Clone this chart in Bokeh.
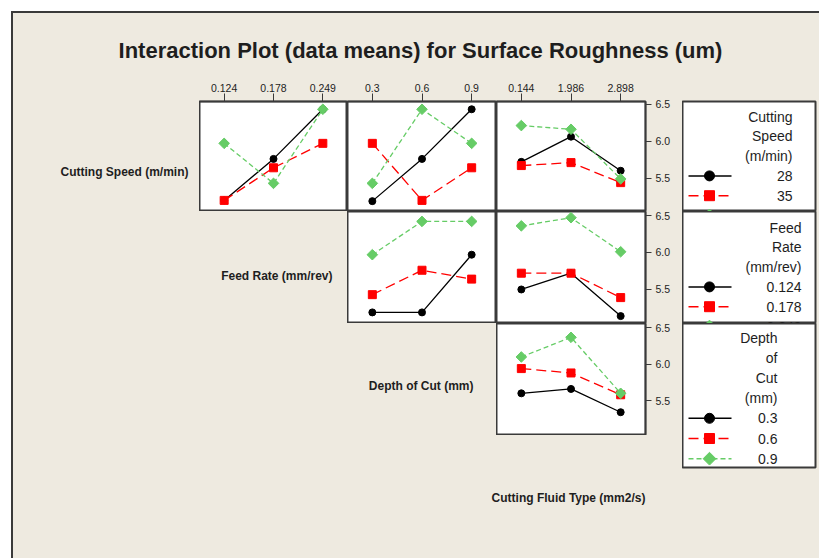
import numpy as np
from bokeh.plotting import figure
from bokeh.models import Range1d, FactorRange, FixedTicker, PrintfTickFormatter, Div
from bokeh.layouts import row, column
from bokeh.embed import file_html
from bokeh.resources import INLINE
from bokeh.core.properties import value

# ---------------- data ----------------
TITLE = "Interaction Plot (data means) for Surface Roughness (um)"
label_speed = "Cutting Speed (m/min)"
label_feed = "Feed Rate (mm/rev)"
label_depth = "Depth of Cut (mm)"
label_fluid = "Cutting Fluid Type (mm2/s)"

speed_levels = ["28", "35", "42"]
feed_levels = ["0.124", "0.178", "0.249"]
depth_levels = ["0.3", "0.6", "0.9"]
fluid_levels = ["0.144", "1.986", "2.898"]

legend_speed_title = ["Cutting", "Speed", "(m/min)"]
legend_feed_title = ["Feed", "Rate", "(mm/rev)"]
legend_depth_title = ["Depth", "of", "Cut", "(mm)"]

y_ticks = [5.5, 6.0, 6.5]

# means[trace level][x level]
speed_by_feed = [[5.20, 5.76, 6.43], [5.20, 5.64, 5.97], [5.97, 5.43, 6.43]]
speed_by_depth = [[5.19, 5.76, 6.43], [5.97, 5.20, 5.64], [5.43, 6.43, 5.97]]
speed_by_fluid = [[5.72, 6.06, 5.60], [5.67, 5.71, 5.44], [6.21, 6.16, 5.49]]
feed_by_depth = [[5.19, 5.19, 5.97], [5.43, 5.76, 5.64], [5.97, 6.42, 6.42]]
feed_by_fluid = [[5.50, 5.72, 5.14], [5.72, 5.72, 5.39], [6.36, 6.47, 6.01]]
depth_by_fluid = [[5.60, 5.66, 5.34], [5.94, 5.88, 5.58], [6.10, 6.37, 5.60]]

# ---------------- style ----------------
BG = "#EEEAE0"
EDGE = "#3a3a3a"
TXT = "#1e1e1e"
FONT = "Liberation Sans"
colors = ["#000000", "#FF0000", "#66CC66"]
dashes = ["solid", "10 5", "5 3"]
markers = ["circle", "square", "square"]
angles = [0.0, 0.0, np.pi / 4]
sizes = [7, 8, 7.5]
leg_sizes = [10, 10, 9]
BGSTYLE = {"background-color": BG}


def base_fig(width, height, **kw):
    p = figure(width=width, height=height, toolbar_location=None, output_backend="svg",
               title=None, **kw)
    p.border_fill_color = BG
    p.xgrid.visible = False
    p.ygrid.visible = False
    return p


def text_fig(width, height, items):
    p = base_fig(width, height, x_range=Range1d(0, width), y_range=Range1d(height, 0),
                 x_axis_location=None, y_axis_location=None, min_border=0)
    p.background_fill_color = BG
    p.outline_line_color = None
    for (x, y, s, align, size) in items:
        p.text(x=[x], y=[y], text=[s], text_align=align, text_baseline="middle",
               text_font=value(FONT), text_font_size=size, text_font_style="bold",
               text_color=TXT)
    return p


def panel(xlevels, ylim, means, width, height, top_axis=False, right_axis=False,
          min_top=0, min_right=0):
    p = base_fig(width, height, x_range=FactorRange(factors=xlevels), y_range=Range1d(*ylim),
                 x_axis_location="above" if top_axis else None,
                 y_axis_location="right" if right_axis else None,
                 min_border=0, min_border_top=min_top, min_border_right=min_right)
    p.background_fill_color = "white"
    p.outline_line_color = EDGE
    p.outline_line_width = 2
    for k in range(3):
        p.line(x=xlevels, y=means[k], line_color=colors[k], line_width=1.3,
               line_dash=dashes[k])
        p.scatter(x=xlevels, y=means[k], marker=markers[k], size=sizes[k],
                  angle=angles[k], fill_color=colors[k], line_color=colors[k])
    axes = []
    if top_axis:
        axes += list(p.xaxis)
    if right_axis:
        ax = p.yaxis[0]
        ax.ticker = FixedTicker(ticks=y_ticks)
        ax.formatter = PrintfTickFormatter(format="%.1f")
        ax.minor_tick_line_color = None
        ax.major_label_standoff = 4
        ax.major_tick_out = 6
        axes.append(ax)
    for ax in axes:
        ax.major_tick_in = 0
        ax.major_tick_line_color = EDGE
        ax.axis_line_color = EDGE
        ax.axis_line_width = 1.5
        ax.major_label_text_font = FONT
        ax.major_label_text_font_size = "10.5px"
        ax.major_label_text_color = TXT
    if top_axis:
        p.xaxis.major_tick_out = 8
        p.xaxis.major_label_standoff = 2
    return p


def legend_fig(width, height, box_h, min_top, min_bottom, min_right, title_lines, levels,
               text_right, off, sp):
    n = len(title_lines) + len(levels)
    fw = width - min_right
    p = base_fig(width, height, x_range=Range1d(0, fw),
                 y_range=Range1d(start=(box_h - off) / sp, end=-off / sp),
                 x_axis_location=None, y_axis_location=None, min_border=0,
                 min_border_top=min_top, min_border_bottom=min_bottom,
                 min_border_right=min_right)
    p.background_fill_color = "white"
    p.outline_line_color = EDGE
    p.outline_line_width = 2
    lines = title_lines + levels
    p.text(x=[text_right] * n, y=list(range(n)), text=lines, text_align="right",
           text_baseline="middle", text_font=value(FONT), text_font_size="14px",
           text_color=TXT)
    for k in range(len(levels)):
        yk = len(title_lines) + k
        p.line(x=[6, 49], y=[yk, yk], line_color=colors[k], line_width=1.5,
               line_dash=dashes[k])
        p.scatter(x=[27], y=[yk], marker=markers[k], size=leg_sizes[k], angle=angles[k],
                  fill_color=colors[k], line_color=colors[k])
    return p


ylim1 = (5.05, 6.535)
ylim2 = (5.04, 6.554)
ylim3 = (5.02, 6.56)

# title
title_fig = text_fig(806, 63, [(407, 37, TITLE, "center", "22px")])

# row 1
L1 = text_fig(186, 135, [(175, 87, label_speed, "right", "12px")])
P11 = panel(feed_levels, ylim1, speed_by_feed, 148, 135, top_axis=True, min_top=25)
P12 = panel(depth_levels, ylim1, speed_by_depth, 149, 135, top_axis=True, min_top=25)
P13 = panel(fluid_levels, ylim1, speed_by_fluid, 186, 135, top_axis=True, right_axis=True,
            min_top=25, min_right=37)
LG1 = legend_fig(137, 135, 110, 25, 0, 4, legend_speed_title, speed_levels, 110, 15, 19.8)
row1 = row(L1, P11, P12, P13, LG1, styles=BGSTYLE)

# row 2
L2 = text_fig(334, 112, [(319, 64, label_feed, "right", "12px")])
P22 = panel(depth_levels, ylim2, feed_by_depth, 149, 112)
P23 = panel(fluid_levels, ylim2, feed_by_fluid, 186, 112, right_axis=True, min_right=37)
LG2 = legend_fig(137, 112, 112, 0, 0, 4, legend_feed_title, feed_levels, 119, 16, 19.8)
row2 = row(L2, P22, P23, LG2, styles=BGSTYLE)

# rows 3 + bottom
L3 = text_fig(483, 112, [(460, 62, label_depth, "right", "12px")])
P33 = panel(fluid_levels, ylim3, depth_by_fluid, 186, 112, right_axis=True, min_right=37)
B = text_fig(669, 123, [(555, 62, label_fluid, "center", "12px")])
LG3 = legend_fig(137, 235, 144, 0, 91, 4, legend_depth_title, depth_levels, 95, 14, 20.2)
bottom = row(column(row(L3, P33, styles=BGSTYLE), B, styles=BGSTYLE), LG3, styles=BGSTYLE)

content = column(title_fig, row1, row2, bottom, styles=BGSTYLE)

inner = column(Div(width=806, height=2, margin=0, styles={"background-color": EDGE}),
               content, styles=BGSTYLE)
mid = row(Div(width=11, height=547, margin=0, styles={"background-color": "white"}),
          Div(width=2, height=547, margin=0, styles={"background-color": EDGE}),
          inner)
outer = column(Div(width=819, height=11, margin=0, styles={"background-color": "white"}), mid)

open("out.html", "w").write(file_html(outer, INLINE))
